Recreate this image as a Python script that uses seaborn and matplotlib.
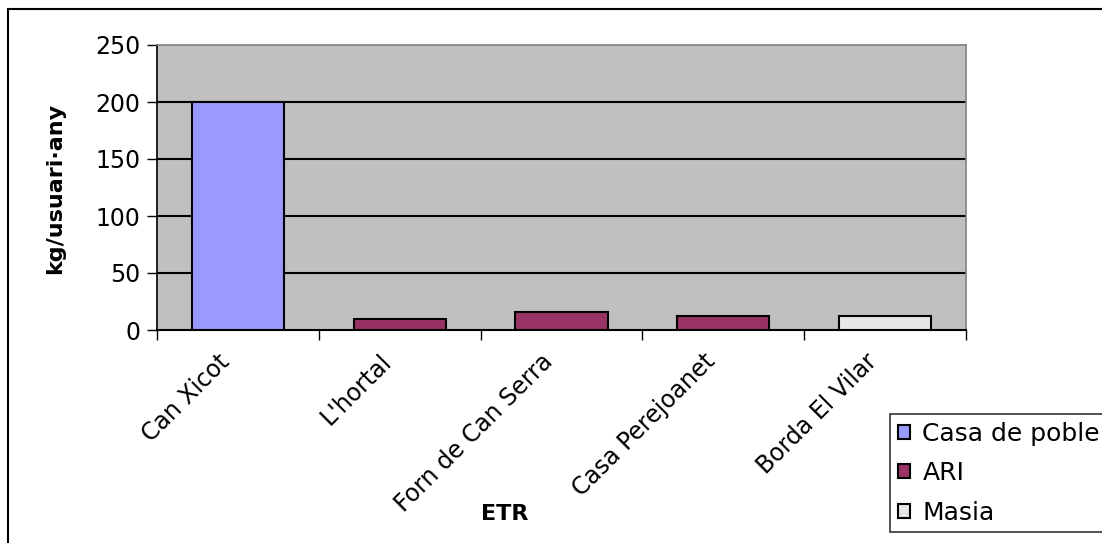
import matplotlib
matplotlib.use("Agg")
import matplotlib.pyplot as plt
import matplotlib.transforms as mtransforms
from matplotlib.patches import Rectangle
import pandas as pd
import seaborn as sns

# dades del grafic
etr = ["Can Xicot", "L'hortal", "Forn de Can Serra", "Casa Perejoanet", "Borda El Vilar"]
valors = [200, 10, 15.5, 12.5, 12.5]
tipus = ["Casa de poble", "ARI", "ARI", "ARI", "Masia"]
ordre_tipus = ["Casa de poble", "ARI", "Masia"]
colors = {"Casa de poble": "#9999FF", "ARI": "#993366", "Masia": "#E6E6E6"}
yticks = [0, 50, 100, 150, 200, 250]

df = pd.DataFrame({"etr": etr, "valor": valors, "tipus": tipus})

plt.rcParams["font.family"] = ["DejaVu Sans"]
fs = 17

fig = plt.figure(figsize=(11.02, 5.43), dpi=100)
ax = fig.add_axes([157 / 1102, 1 - 330 / 543, (966 - 157) / 1102, (330 - 45) / 543])
ax.set_facecolor("#C0C0C0")

sns.barplot(data=df, x="etr", y="valor", hue="tipus", hue_order=ordre_tipus,
            palette=colors, dodge=False, width=0.57, edgecolor="black",
            linewidth=1.5, saturation=1, ax=ax, zorder=3)

ax.set_xlim(-0.5, len(etr) - 0.5)
ax.set_ylim(0, 250)

# linies de graella
for y in yticks[1:-1]:
    ax.axhline(y, color="black", linewidth=1.5, zorder=1)

ax.set_yticks(yticks)
ax.set_yticklabels([str(v) for v in yticks], fontsize=fs)
ax.tick_params(axis="y", direction="out", length=7, width=1, color="black", pad=5)

# marques a les fronteres de categories, etiquetes al centre
ax.set_xticks([i - 0.5 for i in range(len(etr) + 1)])
ax.set_xticklabels([""] * (len(etr) + 1))
ax.tick_params(axis="x", which="major", direction="out", length=7, width=1)
ax.set_xticks(range(len(etr)), minor=True)
ax.set_xticklabels(etr, minor=True, fontsize=fs, rotation=45, ha="right",
                   va="center", rotation_mode="anchor")
ax.tick_params(axis="x", which="minor", length=0, pad=20)
offset = mtransforms.ScaledTranslation(-12 / 100, 0, fig.dpi_scale_trans)
for lab in ax.get_xticklabels(minor=True):
    lab.set_transform(lab.get_transform() + offset)

for s in ["top", "right"]:
    ax.spines[s].set_color("#808080")
    ax.spines[s].set_linewidth(1.2)
ax.spines["left"].set_color("black")
ax.spines["bottom"].set_color("black")
ax.spines["left"].set_linewidth(1.2)
ax.spines["bottom"].set_linewidth(1.5)

ax.set_xlabel("")
ax.set_ylabel("")
fig.text(55 / 1102, 1 - 188 / 543, "kg/usuari·any", fontsize=16, fontweight="bold",
         rotation=90, ha="center", va="center")
fig.text(505 / 1102, 1 - 514 / 543, "ETR", fontsize=16, fontweight="bold",
         ha="center", va="center")

handles, labels = ax.get_legend_handles_labels()
ax.get_legend().remove()
leg = fig.legend(handles, labels, loc="upper left",
                 bbox_to_anchor=(890 / 1102, 1 - 414 / 543),
                 fontsize=18, frameon=True, fancybox=False, edgecolor="black",
                 handlelength=0.5, handleheight=0.5, handletextpad=0.5,
                 labelspacing=0.62, borderpad=0.3, borderaxespad=0)
leg.get_frame().set_linewidth(1.2)

# marc del grafic
fig.patches.append(Rectangle((8 / 1102, -0.1), 1.2, 1 - 9 / 543 + 0.1,
                             transform=fig.transFigure, fill=False,
                             edgecolor="black", linewidth=1.5))

fig.savefig("out.png", dpi=100)
